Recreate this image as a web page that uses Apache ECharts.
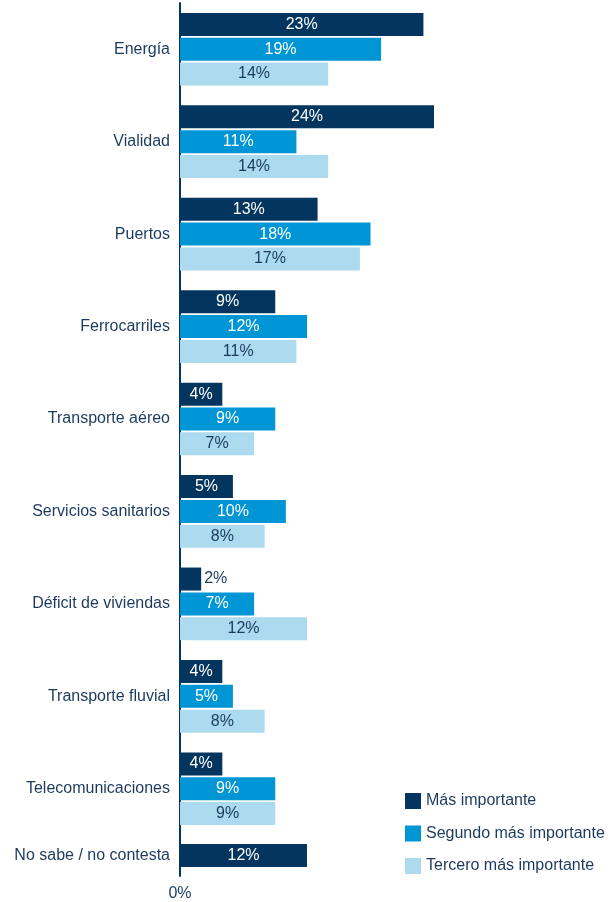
<!DOCTYPE html>
<html>
<head>
<meta charset="utf-8">
<script src="https://cdn.jsdelivr.net/npm/echarts@6/dist/echarts.min.js"></script>
<style>
  html, body { margin: 0; padding: 0; background: #ffffff; }
  #chart { width: 610px; height: 902px; }
</style>
</head>
<body>
<div id="chart"></div>
<script>
// Sectors ranked by priority, share of responses (%)
const categories = [
  'Energía', 'Vialidad', 'Puertos', 'Ferrocarriles', 'Transporte aéreo',
  'Servicios sanitarios', 'Déficit de viviendas', 'Transporte fluvial', 'Telecomunicaciones'
];
const masImportante = [23, 24, 13, 9, 4, 5, 2, 4, 4];
const segundoMasImportante = [19, 11, 18, 12, 9, 10, 7, 5, 9];
const terceroMasImportante = [14, 14, 17, 11, 7, 8, 12, 8, 9];

// Separate row for non-responses
const noSabeCategory = ['No sabe / no contesta'];
const noSabeValues = [12];

const seriesNames = ['Más importante', 'Segundo más importante', 'Tercero más importante'];

const NAVY = '#04355f';
const BLUE = '#0095d4';
const LIGHT = '#acdaee';
const TEXT = '#1b3a5e';
const FONT = 'Liberation Sans, Arial, sans-serif';
const FS = 16;

const pct = p => p.value + '%';

function barLabel(color) {
  return { show: true, position: 'inside', formatter: pct, color: color, fontSize: FS, fontFamily: FONT };
}

// Very short bars get their label outside, to the right
function withOutsideLabels(values, minInside) {
  return values.map(v => v < minInside
    ? { value: v, label: { position: 'right', distance: 3, color: TEXT } }
    : v);
}

const yAxisBase = {
  type: 'category',
  inverse: true,
  axisTick: { show: false },
  axisLine: { show: true, lineStyle: { color: NAVY, width: 2 } },
  axisLabel: { color: TEXT, fontSize: FS, fontFamily: FONT, margin: 10 },
  splitLine: { show: false }
};

const xAxisBase = {
  type: 'value',
  min: 0,
  max: 24,
  interval: 24,
  axisLine: { show: false },
  axisTick: { show: false },
  splitLine: { show: false }
};

const chart = echarts.init(document.getElementById('chart'));
chart.setOption({
  animation: false,
  backgroundColor: '#ffffff',
  textStyle: { fontFamily: FONT },
  grid: [
    { left: 180, right: 176, top: 3, bottom: 902 - 835 },
    { left: 180, right: 176, top: 835, bottom: 902 - 880 }
  ],
  xAxis: [
    Object.assign({}, xAxisBase, { gridIndex: 0, axisLabel: { show: false } }),
    Object.assign({}, xAxisBase, {
      gridIndex: 1,
      axisLabel: {
        show: true, color: TEXT, fontSize: FS, fontFamily: FONT, margin: 10,
        showMaxLabel: false,
        formatter: v => (v === 0 ? '0%' : '')
      }
    })
  ],
  yAxis: [
    Object.assign({}, yAxisBase, { gridIndex: 0, data: categories }),
    Object.assign({}, yAxisBase, { gridIndex: 1, data: noSabeCategory })
  ],
  legend: {
    orient: 'vertical',
    left: 400,
    top: 788,
    itemWidth: 16,
    itemHeight: 16,
    itemGap: 16.5,
    icon: 'rect',
    textStyle: { color: TEXT, fontSize: FS, fontFamily: FONT },
    data: seriesNames
  },
  series: [
    {
      name: seriesNames[0], type: 'bar', xAxisIndex: 0, yAxisIndex: 0,
      barWidth: 23, barGap: '8%',
      itemStyle: { color: NAVY },
      label: barLabel('#ffffff'),
      data: withOutsideLabels(masImportante, 3)
    },
    {
      name: seriesNames[1], type: 'bar', xAxisIndex: 0, yAxisIndex: 0,
      barWidth: 23, barGap: '8%',
      itemStyle: { color: BLUE },
      label: barLabel('#ffffff'),
      data: segundoMasImportante
    },
    {
      name: seriesNames[2], type: 'bar', xAxisIndex: 0, yAxisIndex: 0,
      barWidth: 23, barGap: '8%',
      itemStyle: { color: LIGHT },
      label: barLabel(TEXT),
      data: terceroMasImportante
    },
    {
      name: seriesNames[0], type: 'bar', xAxisIndex: 1, yAxisIndex: 1,
      barWidth: 23,
      itemStyle: { color: NAVY },
      label: barLabel('#ffffff'),
      data: noSabeValues
    }
  ]
});
</script>
</body>
</html>
